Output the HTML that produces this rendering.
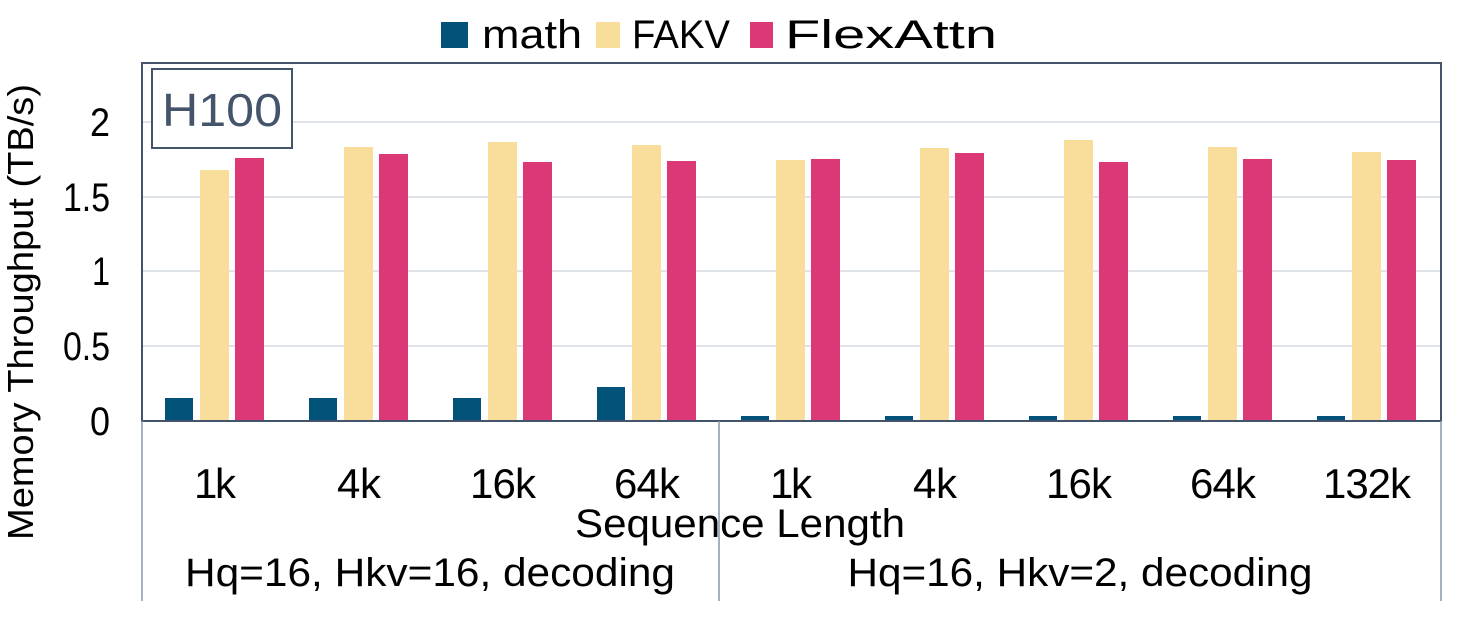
<!DOCTYPE html>
<html><head><meta charset="utf-8"><style>
html,body{margin:0;padding:0;background:#fff;}
svg{display:block;font-family:"Liberation Sans",sans-serif;}
</style></head><body>
<svg width="1464" height="629" viewBox="0 0 1464 629" xmlns="http://www.w3.org/2000/svg">
<rect width="1464" height="629" fill="#fff"/>
<g stroke="#dfe3ea" stroke-width="2">
<line x1="143" x2="1441" y1="346" y2="346"/>
<line x1="143" x2="1441" y1="271" y2="271"/>
<line x1="143" x2="1441" y1="197" y2="197"/>
<line x1="143" x2="1441" y1="122" y2="122"/>
</g>
<g>
<rect x="165" y="398" width="28" height="23" fill="#03527a"/><rect x="200" y="170" width="29" height="251" fill="#f9dd9b"/><rect x="235" y="158" width="29" height="263" fill="#dc3877"/>
<rect x="309" y="398" width="28" height="23" fill="#03527a"/><rect x="344" y="147" width="29" height="274" fill="#f9dd9b"/><rect x="379" y="154" width="29" height="267" fill="#dc3877"/>
<rect x="453" y="398" width="28" height="23" fill="#03527a"/><rect x="488" y="142" width="29" height="279" fill="#f9dd9b"/><rect x="523" y="162" width="29" height="259" fill="#dc3877"/>
<rect x="597" y="387" width="28" height="34" fill="#03527a"/><rect x="632" y="145" width="29" height="276" fill="#f9dd9b"/><rect x="667" y="161" width="29" height="260" fill="#dc3877"/>
<rect x="741" y="416" width="28" height="5" fill="#03527a"/><rect x="776" y="160" width="29" height="261" fill="#f9dd9b"/><rect x="811" y="159" width="29" height="262" fill="#dc3877"/>
<rect x="885" y="416" width="28" height="5" fill="#03527a"/><rect x="920" y="148" width="29" height="273" fill="#f9dd9b"/><rect x="955" y="153" width="29" height="268" fill="#dc3877"/>
<rect x="1029" y="416" width="28" height="5" fill="#03527a"/><rect x="1064" y="140" width="29" height="281" fill="#f9dd9b"/><rect x="1099" y="162" width="29" height="259" fill="#dc3877"/>
<rect x="1173" y="416" width="28" height="5" fill="#03527a"/><rect x="1208" y="147" width="29" height="274" fill="#f9dd9b"/><rect x="1243" y="159" width="29" height="262" fill="#dc3877"/>
<rect x="1317" y="416" width="28" height="5" fill="#03527a"/><rect x="1352" y="152" width="29" height="269" fill="#f9dd9b"/><rect x="1387" y="160" width="29" height="261" fill="#dc3877"/>
</g>
<rect x="142" y="63" width="1299" height="358" fill="none" stroke="#44546a" stroke-width="2"/>
<g stroke="#8a97a8" stroke-width="1.5">
<line x1="142" x2="142" y1="421" y2="601"/>
<line x1="719" x2="719" y1="421" y2="601"/>
<line x1="1441" x2="1441" y1="421" y2="601"/>
</g>
<rect x="152" y="69" width="140" height="79" fill="#fff" stroke="#44546a" stroke-width="2"/>
<text x="222" y="126" font-size="46" fill="#44546a" text-anchor="middle" textLength="120" lengthAdjust="spacingAndGlyphs">H100</text>
<g font-size="40" fill="#000" text-anchor="end">
<text x="110" y="435" textLength="20" lengthAdjust="spacingAndGlyphs">0</text>
<text x="110" y="360" textLength="47" lengthAdjust="spacingAndGlyphs">0.5</text>
<text x="110" y="285" textLength="18" lengthAdjust="spacingAndGlyphs">1</text>
<text x="110" y="211" textLength="47" lengthAdjust="spacingAndGlyphs">1.5</text>
<text x="110" y="136" textLength="20" lengthAdjust="spacingAndGlyphs">2</text>
</g>
<text transform="translate(33,312) rotate(-90)" font-size="36" text-anchor="middle" textLength="456" lengthAdjust="spacingAndGlyphs">Memory Throughput (TB/s)</text>
<g font-size="42" text-anchor="middle" lengthAdjust="spacingAndGlyphs">
<text x="215" y="498" textLength="42">1k</text>
<text x="359" y="498" textLength="44">4k</text>
<text x="503" y="498" textLength="66">16k</text>
<text x="647" y="498" textLength="66">64k</text>
<text x="791" y="498" textLength="42">1k</text>
<text x="935" y="498" textLength="44">4k</text>
<text x="1079" y="498" textLength="66">16k</text>
<text x="1223" y="498" textLength="66">64k</text>
<text x="1367" y="498" textLength="88">132k</text>
</g>
<text x="740" y="537" font-size="40" text-anchor="middle" textLength="330" lengthAdjust="spacingAndGlyphs">Sequence Length</text>
<text x="430" y="586" font-size="40" text-anchor="middle" textLength="490" lengthAdjust="spacingAndGlyphs">Hq=16, Hkv=16, decoding</text>
<text x="1080" y="586" font-size="40" text-anchor="middle" textLength="465" lengthAdjust="spacingAndGlyphs">Hq=16, Hkv=2, decoding</text>
<rect x="441" y="22" width="27" height="26" fill="#03527a"/>
<text x="482" y="48" font-size="40" textLength="100" lengthAdjust="spacingAndGlyphs">math</text>
<rect x="596" y="22" width="24" height="26" fill="#f9dd9b"/>
<text x="632" y="48" font-size="40" textLength="98" lengthAdjust="spacingAndGlyphs">FAKV</text>
<rect x="750" y="22" width="23" height="26" fill="#dc3877"/>
<text x="785" y="48" font-size="40" textLength="212" lengthAdjust="spacingAndGlyphs">FlexAttn</text>
</svg>
</body></html>
